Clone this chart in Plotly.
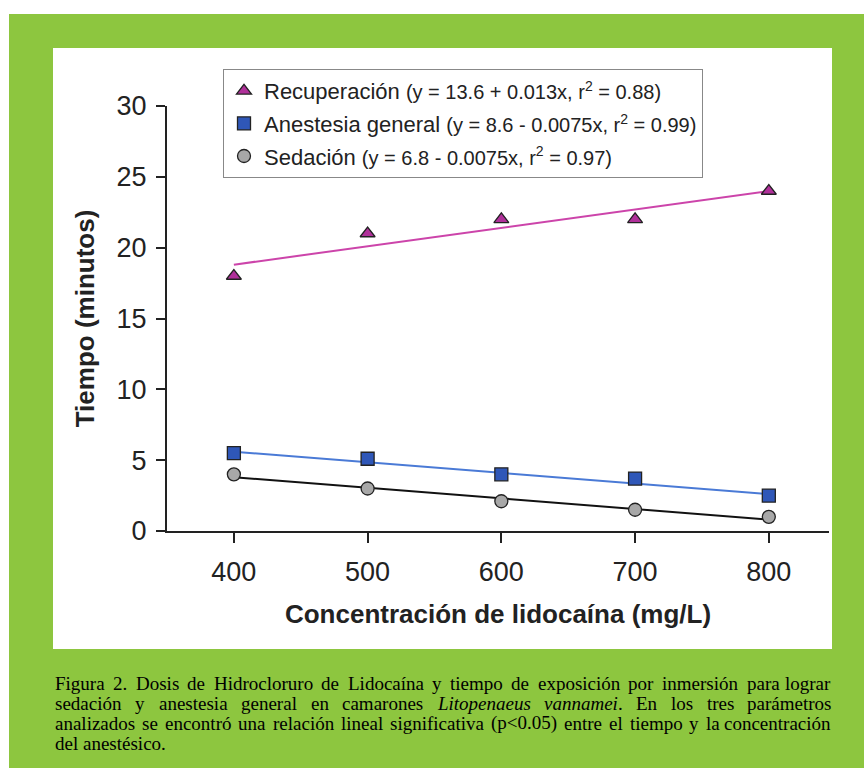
import plotly.graph_objects as go

# ---- data ----
conc = [400, 500, 600, 700, 800]
recuperacion = [18.0, 21.0, 22.0, 22.0, 24.0]
anestesia = [5.5, 5.1, 4.0, 3.7, 2.5]
sedacion = [4.0, 3.0, 2.1, 1.5, 1.0]
fit_x = [400, 800]
rec_fit = [18.8, 24.0]
anes_fit = [5.6, 2.6]
sed_fit = [3.8, 0.8]
names = ["Recuperación", "Anestesia general", "Sedación"]
eqs = ["(y = 13.6 + 0.013x, r<sup>2</sup> = 0.88)",
       "(y = 8.6 - 0.0075x, r<sup>2</sup> = 0.99)",
       "(y = 6.8 - 0.0075x, r<sup>2</sup> = 0.97)"]
x_ticks = [400, 500, 600, 700, 800]
y_ticks = [0, 5, 10, 15, 20, 25, 30]
caption_lines = [
    "Figura 2. Dosis de Hidrocloruro de Lidocaína y tiempo de exposición por inmersión para lograr",
    "sedación y anestesia general en camarones *Litopenaeus *vannamei. En los tres parámetros",
    "analizados se encontró una relación lineal significativa (p<0.05) entre el tiempo y la concentración",
    "del anestésico.",
]

W, H = 864, 768
L, R, T, B = 167, 829, 106, 531

def px(x):
    return (x - L) / (R - L)

def py(y):
    return (B - y) / (B - T)

# Times / Liberation Serif advance widths (per 1000 em)
TW = {' ': 250, 'a': 444, 'b': 500, 'c': 444, 'd': 500, 'e': 444, 'f': 333, 'g': 500, 'h': 500,
      'i': 278, 'j': 278, 'k': 500, 'l': 278, 'm': 778, 'n': 500, 'o': 500, 'p': 500, 'q': 500,
      'r': 333, 's': 389, 't': 278, 'u': 500, 'v': 500, 'w': 722, 'x': 500, 'y': 500, 'z': 444,
      'A': 722, 'D': 722, 'E': 611, 'F': 556, 'H': 722, 'L': 611, '.': 250, '(': 333, ')': 333,
      '<': 564, 'í': 278, 'á': 444, 'ó': 500, 'é': 444, ',': 250}
TWI = {'a': 500, 'e': 444, 'i': 278, 'n': 500, 'm': 722, 'o': 500, 'p': 500, 's': 389, 't': 278,
       'u': 500, 'v': 444, 'L': 556, '.': 250}

def word_w(w, italic, size):
    tab = TWI if italic else TW
    return sum(tab.get(c, TW.get(c, 500)) for c in w) * size / 1000.0

fig = go.Figure()

fig.add_trace(go.Scatter(x=fit_x, y=rec_fit, mode="lines", line=dict(color="#cc44aa", width=2), showlegend=False, hoverinfo="skip"))
fig.add_trace(go.Scatter(x=fit_x, y=anes_fit, mode="lines", line=dict(color="#4a7ad6", width=2), showlegend=False, hoverinfo="skip"))
fig.add_trace(go.Scatter(x=fit_x, y=sed_fit, mode="lines", line=dict(color="#111111", width=2), showlegend=False, hoverinfo="skip"))

series = [recuperacion, anestesia, sedacion]
symbols = ["triangle-up", "square", "circle"]
colors = ["#b0309a", "#2f57b8", "#a8a8a8"]
for i in range(3):
    fig.add_trace(go.Scatter(
        x=conc, y=series[i], mode="markers",
        name=f"{names[i]} <span style='font-size:20px'>{eqs[i]}</span>",
        legendgroup=f"g{i}",
        marker=dict(symbol=symbols[i], size=13, color=colors[i], line=dict(color="#222222", width=1.3)),
    ))

shapes = [
    dict(type="rect", xref="paper", yref="paper", x0=px(9), x1=px(864), y0=py(768), y1=py(14),
         fillcolor="#8dc63f", line=dict(width=0), layer="below"),
    dict(type="rect", xref="paper", yref="paper", x0=px(53), x1=px(832), y0=py(649), y1=py(48),
         fillcolor="white", line=dict(width=0), layer="below"),
]

annotations = []
cap_y = [683, 703, 723, 743]
CS = 19
X0, X1 = 54, 832
for li, (line, yy) in enumerate(zip(caption_lines, cap_y)):
    words = line.split(" ")
    parsed = []
    for w in words:
        it = w.startswith("*")
        w = w.lstrip("*")
        if it and w.endswith("."):
            disp = "<i>" + w[:-1] + "</i>."
        elif it:
            disp = "<i>" + w + "</i>"
        else:
            disp = w
        disp = disp.replace("<0", "&lt;0")
        parsed.append((w, disp, it))
    widths = [word_w(w, it, CS) for w, _, it in parsed]
    justify = li < len(caption_lines) - 1
    if justify:
        gap = (X1 - X0 - sum(widths)) / (len(parsed) - 1)
    else:
        gap = 250 * CS / 1000.0
    x = X0
    for k, ((w, disp, it), ww) in enumerate(zip(parsed, widths)):
        last = justify and k == len(parsed) - 1
        annotations.append(dict(text=disp, xref="paper", yref="paper",
                                x=px(X1) if last else px(x), y=py(yy),
                                xanchor="right" if last else "left", yanchor="middle",
                                showarrow=False, borderpad=0,
                                font=dict(family="Liberation Serif", size=CS, color="black")))
        x += ww + gap

fig.update_layout(
    width=W, height=H,
    margin=dict(l=L, r=W - R, t=T, b=H - B),
    paper_bgcolor="white", plot_bgcolor="white",
    font=dict(family="Liberation Sans, Arial", color="#222222"),
    shapes=shapes,
    annotations=annotations,
    showlegend=True,
    legend=dict(x=px(223), y=py(69), xanchor="left", yanchor="top",
                bgcolor="white", bordercolor="#888888", borderwidth=1,
                font=dict(size=22, color="#222222"),
                traceorder="grouped", tracegroupgap=1,
                itemwidth=30),
    xaxis=dict(range=[350, 845], tickvals=x_ticks, ticks="outside", ticklen=10, tickwidth=2,
               tickcolor="#222222", showline=True, linecolor="#222222", linewidth=2,
               showgrid=False, zeroline=False, tickfont=dict(size=27), ticklabelstandoff=6,
               title=dict(text="<b>Concentración de lidocaína (mg/L)</b>", font=dict(size=26), standoff=18)),
    yaxis=dict(range=[0, 30], tickvals=y_ticks, ticks="outside", ticklen=9, tickwidth=2,
               tickcolor="#222222", showline=True, linecolor="#222222", linewidth=2,
               showgrid=False, zeroline=False, tickfont=dict(size=27), ticklabelstandoff=4,
               title=dict(text="<b>Tiempo (minutos)</b>", font=dict(size=26), standoff=14)),
)

fig.write_html("out.html")
